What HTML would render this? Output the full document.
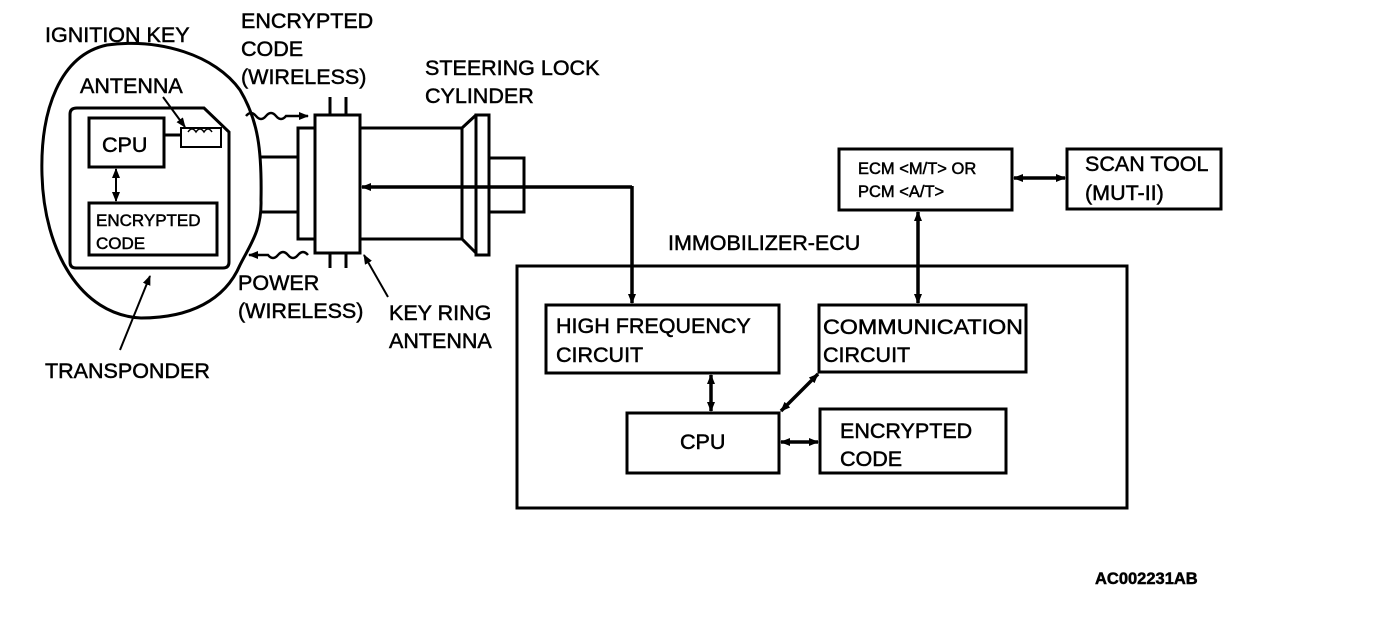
<!DOCTYPE html>
<html><head><meta charset="utf-8"><style>
html,body{margin:0;padding:0;background:#fff;}
svg{display:block}
text{font-family:"Liberation Sans",sans-serif;fill:#000;stroke:#000;stroke-width:0.5;}
</style></head><body>
<svg width="1392" height="626" viewBox="0 0 1392 626" xmlns="http://www.w3.org/2000/svg">
<defs>
<marker id="ah" markerWidth="10" markerHeight="8" refX="9" refY="4" orient="auto" markerUnits="userSpaceOnUse"><path d="M0,0 L10,4 L0,8 z" fill="#000"/></marker>
<marker id="as" markerWidth="10" markerHeight="8" refX="1" refY="4" orient="auto" markerUnits="userSpaceOnUse"><path d="M10,0 L0,4 L10,8 z" fill="#000"/></marker>
</defs>
<g fill="none" stroke="#000" stroke-width="3">
<path d="M107,45 C60,55 40,110 42,175 C44,250 80,315 141,318 C190,318 225,300 240,265 C250,245 262,230 261,200 C262,150 258,120 240,90 C215,55 160,38 107,45 Z"/>
<path d="M77,108 L204,108 L229,132 L229,262 Q229,268 223,268 L76,268 Q70,268 70,262 L70,114 Q70,108 77,108 Z"/>
<rect x="89" y="118" width="75" height="49"/>
<rect x="89" y="203" width="128" height="52"/>
<path d="M164,135 L181,135"/>
<path d="M181,128 L221,128 L221,147 L181,147 Z" stroke-width="2"/>
<path d="M260,157 L298,157 M260,212 L298,212"/>
<rect x="298" y="128" width="17" height="111"/>
<rect x="315" y="115" width="45" height="138"/>
<path d="M330,97 L330,115 M346,97 L346,115 M330,253 L330,268 M346,253 L346,268"/>
<path d="M360,128 L462,128 L476,115 M360,239 L462,239 L476,253 M462,128 L462,239"/>
<rect x="476" y="115" width="13" height="140"/>
<rect x="489" y="158" width="35" height="54"/>
<rect x="517" y="266" width="610" height="242"/>
<rect x="546" y="305" width="233" height="68"/>
<rect x="819" y="305" width="207" height="67"/>
<rect x="627" y="413" width="152" height="60"/>
<rect x="820" y="409" width="186" height="64"/>
<rect x="839" y="149" width="173" height="61"/>
<rect x="1067" y="149" width="154" height="60"/>
</g>
<g fill="none" stroke="#000" stroke-width="3.5">
<path d="M632,187 L362,187" marker-end="url(#ah)"/>
<path d="M632,186 L632,303" marker-end="url(#ah)"/>
<path d="M918,212 L918,303" marker-start="url(#as)" marker-end="url(#ah)"/>
<path d="M1014,178 L1065,178" marker-start="url(#as)" marker-end="url(#ah)"/>
<path d="M711,375 L711,411" marker-start="url(#as)" marker-end="url(#ah)"/>
<path d="M818,374 L781,411" marker-start="url(#as)" marker-end="url(#ah)"/>
<path d="M781,442 L818,442" marker-start="url(#as)" marker-end="url(#ah)"/>
<path d="M116,169 L116,201" stroke-width="2" marker-start="url(#as)" marker-end="url(#ah)"/>
</g>
<g fill="none" stroke="#000" stroke-width="2">
<path d="M163,97 L185,127" marker-end="url(#ah)"/>
<path d="M120,350 L150,276" marker-end="url(#ah)"/>
<path d="M388,297 L364,255" marker-end="url(#ah)"/>
<path d="M246,116 q5,-6 10,0 t10,0 t10,0 t10,0 L308,116" stroke-width="2.5" marker-end="url(#ah)"/>
<path d="M308,255 q-5,-6 -10,0 t-10,0 t-10,0 t-10,0 L249,255" stroke-width="2.5" marker-end="url(#ah)"/>
<path d="M188,132 q4,-6 8,0 q4,-6 8,0 q4,-6 8,0" stroke-width="1.5"/>
</g>
<g font-size="21.5">
<text x="45" y="42">IGNITION KEY</text>
<text x="80" y="93">ANTENNA</text>
<text x="102" y="152">CPU</text>
<text x="96" y="226" font-size="17">ENCRYPTED</text>
<text x="96" y="249" font-size="17">CODE</text>
<text x="45" y="378">TRANSPONDER</text>
<text x="241" y="28">ENCRYPTED</text>
<text x="241" y="56">CODE</text>
<text x="241" y="84">(WIRELESS)</text>
<text x="425" y="75">STEERING LOCK</text>
<text x="425" y="103">CYLINDER</text>
<text x="238" y="290">POWER</text>
<text x="238" y="318">(WIRELESS)</text>
<text x="389" y="320">KEY RING</text>
<text x="389" y="348">ANTENNA</text>
<text x="668" y="250">IMMOBILIZER-ECU</text>
<text x="556" y="333">HIGH FREQUENCY</text>
<text x="556" y="362">CIRCUIT</text>
<text x="823" y="334" textLength="200" lengthAdjust="spacingAndGlyphs">COMMUNICATION</text>
<text x="823" y="362">CIRCUIT</text>
<text x="680" y="449">CPU</text>
<text x="840" y="438">ENCRYPTED</text>
<text x="840" y="466">CODE</text>
<text x="858" y="174" font-size="16.5">ECM &lt;M/T&gt; OR</text>
<text x="858" y="197" font-size="16.5">PCM &lt;A/T&gt;</text>
<text x="1085" y="171">SCAN TOOL</text>
<text x="1085" y="200">(MUT-II)</text>
<text x="1095" y="584" font-size="16.5" font-weight="bold">AC002231AB</text>
</g>
</svg>
</body></html>
